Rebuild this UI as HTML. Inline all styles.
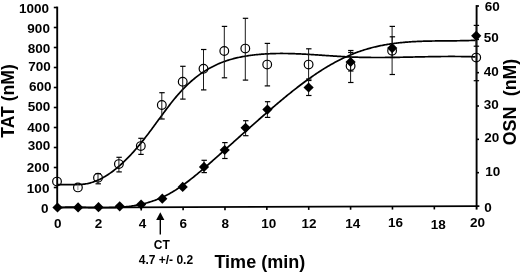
<!DOCTYPE html>
<html><head><meta charset="utf-8"><style>
html,body{margin:0;padding:0;background:#fff;}
body{width:520px;height:272px;overflow:hidden;}
svg{display:block;will-change:transform;}
text{font-family:"Liberation Sans",sans-serif;font-weight:bold;fill:#000;}
.tl{font-size:13.5px;}
.tm{font-size:12px;}
.tt{font-size:18px;}
.ty{font-size:17.6px;}
.ty2{font-size:17.8px;}
</style></head><body>
<svg width="520" height="272" viewBox="0 0 520 272">
<rect width="520" height="272" fill="#fff"/>
<line x1="57.2" y1="6.6" x2="57.2" y2="208.2" stroke="#000" stroke-width="1.9"/>
<line x1="476.6" y1="5.1" x2="476.6" y2="209.6" stroke="#000" stroke-width="1.9"/>
<line x1="57.2" y1="207.6" x2="479.4" y2="206.09" stroke="#000" stroke-width="1.8"/>
<line x1="53.8" y1="207.50" x2="57.2" y2="207.50" stroke="#000" stroke-width="1.6"/>
<text x="48.5" y="212.6" class="tl" text-anchor="end">0</text>
<line x1="53.8" y1="187.50" x2="57.2" y2="187.50" stroke="#000" stroke-width="1.6"/>
<text x="49.4" y="192.5" class="tl" text-anchor="end">100</text>
<line x1="53.8" y1="167.50" x2="57.2" y2="167.50" stroke="#000" stroke-width="1.6"/>
<text x="49.4" y="172.4" class="tl" text-anchor="end">200</text>
<line x1="53.8" y1="147.50" x2="57.2" y2="147.50" stroke="#000" stroke-width="1.6"/>
<text x="50.3" y="149.7" class="tl" text-anchor="end">300</text>
<line x1="53.8" y1="127.50" x2="57.2" y2="127.50" stroke="#000" stroke-width="1.6"/>
<text x="49.9" y="131.5" class="tl" text-anchor="end">400</text>
<line x1="53.8" y1="107.50" x2="57.2" y2="107.50" stroke="#000" stroke-width="1.6"/>
<text x="50.3" y="111.0" class="tl" text-anchor="end">500</text>
<line x1="53.8" y1="87.50" x2="57.2" y2="87.50" stroke="#000" stroke-width="1.6"/>
<text x="51.6" y="90.9" class="tl" text-anchor="end">600</text>
<line x1="53.8" y1="67.50" x2="57.2" y2="67.50" stroke="#000" stroke-width="1.6"/>
<text x="50.7" y="70.9" class="tl" text-anchor="end">700</text>
<line x1="53.8" y1="47.50" x2="57.2" y2="47.50" stroke="#000" stroke-width="1.6"/>
<text x="50.3" y="52.9" class="tl" text-anchor="end">800</text>
<line x1="53.8" y1="27.50" x2="57.2" y2="27.50" stroke="#000" stroke-width="1.6"/>
<text x="49.9" y="33.2" class="tl" text-anchor="end">900</text>
<line x1="53.8" y1="7.50" x2="57.2" y2="7.50" stroke="#000" stroke-width="1.6"/>
<text x="49.0" y="13.2" class="tl" text-anchor="end">1000</text>
<text x="484.3" y="212.0" class="tl">0</text>
<line x1="476.6" y1="172.67" x2="479.0" y2="172.67" stroke="#000" stroke-width="1.6"/>
<text x="485.2" y="176.4" class="tl">10</text>
<line x1="476.6" y1="139.33" x2="479.0" y2="139.33" stroke="#000" stroke-width="1.6"/>
<text x="484.3" y="142.2" class="tl">20</text>
<line x1="476.6" y1="106.00" x2="479.0" y2="106.00" stroke="#000" stroke-width="1.6"/>
<text x="483.8" y="108.5" class="tl">30</text>
<line x1="476.6" y1="72.67" x2="479.0" y2="72.67" stroke="#000" stroke-width="1.6"/>
<text x="483.8" y="75.8" class="tl">40</text>
<line x1="476.6" y1="39.33" x2="479.0" y2="39.33" stroke="#000" stroke-width="1.6"/>
<text x="483.8" y="41.7" class="tl">50</text>
<line x1="476.6" y1="6.00" x2="479.0" y2="6.00" stroke="#000" stroke-width="1.6"/>
<text x="484.8" y="10.9" class="tl">60</text>
<text x="57.7" y="228" class="tl" text-anchor="middle">0</text>
<line x1="99.37" y1="207.45" x2="99.37" y2="210.65" stroke="#000" stroke-width="1.6"/>
<text x="98.6" y="228" class="tl" text-anchor="middle">2</text>
<line x1="141.24" y1="207.30" x2="141.24" y2="210.50" stroke="#000" stroke-width="1.6"/>
<text x="142.4" y="228" class="tl" text-anchor="middle">4</text>
<line x1="183.11" y1="207.15" x2="183.11" y2="210.35" stroke="#000" stroke-width="1.6"/>
<text x="183.3" y="228" class="tl" text-anchor="middle">6</text>
<line x1="224.98" y1="207.00" x2="224.98" y2="210.20" stroke="#000" stroke-width="1.6"/>
<text x="225.3" y="228" class="tl" text-anchor="middle">8</text>
<line x1="266.85" y1="206.85" x2="266.85" y2="210.05" stroke="#000" stroke-width="1.6"/>
<text x="268.7" y="228" class="tl" text-anchor="middle">10</text>
<line x1="308.72" y1="206.70" x2="308.72" y2="209.90" stroke="#000" stroke-width="1.6"/>
<text x="308.9" y="228" class="tl" text-anchor="middle">12</text>
<line x1="350.59" y1="206.55" x2="350.59" y2="209.75" stroke="#000" stroke-width="1.6"/>
<text x="352.8" y="228" class="tl" text-anchor="middle">14</text>
<line x1="392.46" y1="206.40" x2="392.46" y2="209.60" stroke="#000" stroke-width="1.6"/>
<text x="395.6" y="226.5" class="tl" text-anchor="middle">16</text>
<line x1="434.33" y1="206.25" x2="434.33" y2="209.45" stroke="#000" stroke-width="1.6"/>
<text x="438.2" y="228.5" class="tl" text-anchor="middle">18</text>
<text x="477.4" y="227" class="tl" text-anchor="middle">20</text>
<path d="M57.5,184.70 L58.5,184.64 L59.5,184.60 L60.5,184.57 L61.5,184.55 L62.5,184.54 L63.5,184.53 L64.5,184.54 L65.5,184.55 L66.5,184.56 L67.5,184.58 L68.5,184.60 L69.5,184.62 L70.5,184.64 L71.5,184.66 L72.5,184.68 L73.5,184.68 L74.5,184.69 L75.5,184.68 L76.5,184.67 L77.5,184.64 L78.5,184.61 L79.5,184.56 L80.5,184.50 L81.5,184.42 L82.5,184.32 L83.5,184.21 L84.5,184.08 L85.5,183.92 L86.5,183.75 L87.5,183.55 L88.5,183.32 L89.5,183.08 L90.5,182.81 L91.5,182.52 L92.5,182.21 L93.5,181.87 L94.5,181.52 L95.5,181.14 L96.5,180.74 L97.5,180.32 L98.5,179.87 L99.5,179.41 L100.5,178.92 L101.5,178.41 L102.5,177.89 L103.5,177.34 L104.5,176.77 L105.5,176.17 L106.5,175.56 L107.5,174.93 L108.5,174.27 L109.5,173.60 L110.5,172.91 L111.5,172.19 L112.5,171.46 L113.5,170.71 L114.5,169.93 L115.5,169.14 L116.5,168.33 L117.5,167.50 L118.5,166.65 L119.5,165.79 L120.5,164.90 L121.5,164.00 L122.5,163.08 L123.5,162.14 L124.5,161.18 L125.5,160.21 L126.5,159.22 L127.5,158.21 L128.5,157.18 L129.5,156.14 L130.5,155.08 L131.5,154.01 L132.5,152.92 L133.5,151.81 L134.5,150.69 L135.5,149.55 L136.5,148.39 L137.5,147.23 L138.5,146.04 L139.5,144.84 L140.5,143.63 L141.5,142.40 L142.5,141.15 L143.5,139.90 L144.5,138.63 L145.5,137.34 L146.5,136.04 L147.5,134.73 L148.5,133.41 L149.5,132.08 L150.5,130.75 L151.5,129.40 L152.5,128.05 L153.5,126.69 L154.5,125.33 L155.5,123.97 L156.5,122.60 L157.5,121.24 L158.5,119.87 L159.5,118.50 L160.5,117.14 L161.5,115.78 L162.5,114.42 L163.5,113.06 L164.5,111.72 L165.5,110.38 L166.5,109.05 L167.5,107.72 L168.5,106.41 L169.5,105.11 L170.5,103.82 L171.5,102.54 L172.5,101.28 L173.5,100.04 L174.5,98.81 L175.5,97.59 L176.5,96.40 L177.5,95.22 L178.5,94.07 L179.5,92.94 L180.5,91.82 L181.5,90.74 L182.5,89.67 L183.5,88.62 L184.5,87.60 L185.5,86.60 L186.5,85.61 L187.5,84.65 L188.5,83.71 L189.5,82.79 L190.5,81.89 L191.5,81.01 L192.5,80.15 L193.5,79.31 L194.5,78.48 L195.5,77.68 L196.5,76.89 L197.5,76.13 L198.5,75.38 L199.5,74.65 L200.5,73.93 L201.5,73.23 L202.5,72.56 L203.5,71.89 L204.5,71.25 L205.5,70.62 L206.5,70.00 L207.5,69.41 L208.5,68.82 L209.5,68.26 L210.5,67.71 L211.5,67.17 L212.5,66.65 L213.5,66.14 L214.5,65.65 L215.5,65.17 L216.5,64.71 L217.5,64.25 L218.5,63.82 L219.5,63.39 L220.5,62.98 L221.5,62.58 L222.5,62.19 L223.5,61.82 L224.5,61.45 L225.5,61.10 L226.5,60.76 L227.5,60.43 L228.5,60.11 L229.5,59.81 L230.5,59.51 L231.5,59.22 L232.5,58.95 L233.5,58.68 L234.5,58.42 L235.5,58.17 L236.5,57.93 L237.5,57.70 L238.5,57.48 L239.5,57.27 L240.5,57.06 L241.5,56.86 L242.5,56.67 L243.5,56.49 L244.5,56.31 L245.5,56.14 L246.5,55.98 L247.5,55.83 L248.5,55.68 L249.5,55.53 L250.5,55.39 L251.5,55.26 L252.5,55.13 L253.5,55.01 L254.5,54.90 L255.5,54.78 L256.5,54.68 L257.5,54.58 L258.5,54.48 L259.5,54.39 L260.5,54.30 L261.5,54.22 L262.5,54.14 L263.5,54.07 L264.5,54.00 L265.5,53.94 L266.5,53.88 L267.5,53.83 L268.5,53.78 L269.5,53.73 L270.5,53.69 L271.5,53.65 L272.5,53.61 L273.5,53.58 L274.5,53.56 L275.5,53.54 L276.5,53.52 L277.5,53.50 L278.5,53.49 L279.5,53.48 L280.5,53.47 L281.5,53.47 L282.5,53.47 L283.5,53.48 L284.5,53.49 L285.5,53.50 L286.5,53.51 L287.5,53.52 L288.5,53.54 L289.5,53.57 L290.5,53.59 L291.5,53.62 L292.5,53.64 L293.5,53.68 L294.5,53.71 L295.5,53.75 L296.5,53.78 L297.5,53.82 L298.5,53.87 L299.5,53.91 L300.5,53.96 L301.5,54.00 L302.5,54.05 L303.5,54.11 L304.5,54.16 L305.5,54.21 L306.5,54.27 L307.5,54.32 L308.5,54.38 L309.5,54.44 L310.5,54.50 L311.5,54.56 L312.5,54.63 L313.5,54.69 L314.5,54.75 L315.5,54.82 L316.5,54.88 L317.5,54.95 L318.5,55.02 L319.5,55.08 L320.5,55.15 L321.5,55.22 L322.5,55.29 L323.5,55.36 L324.5,55.42 L325.5,55.49 L326.5,55.56 L327.5,55.63 L328.5,55.69 L329.5,55.76 L330.5,55.83 L331.5,55.90 L332.5,55.96 L333.5,56.03 L334.5,56.09 L335.5,56.16 L336.5,56.22 L337.5,56.28 L338.5,56.34 L339.5,56.40 L340.5,56.46 L341.5,56.52 L342.5,56.57 L343.5,56.63 L344.5,56.68 L345.5,56.74 L346.5,56.79 L347.5,56.83 L348.5,56.88 L349.5,56.93 L350.5,56.97 L351.5,57.01 L352.5,57.05 L353.5,57.09 L354.5,57.13 L355.5,57.16 L356.5,57.19 L357.5,57.22 L358.5,57.25 L359.5,57.28 L360.5,57.30 L361.5,57.33 L362.5,57.35 L363.5,57.37 L364.5,57.39 L365.5,57.40 L366.5,57.42 L367.5,57.43 L368.5,57.45 L369.5,57.46 L370.5,57.47 L371.5,57.48 L372.5,57.48 L373.5,57.49 L374.5,57.49 L375.5,57.50 L376.5,57.50 L377.5,57.50 L378.5,57.50 L379.5,57.50 L380.5,57.50 L381.5,57.49 L382.5,57.49 L383.5,57.48 L384.5,57.48 L385.5,57.47 L386.5,57.46 L387.5,57.45 L388.5,57.44 L389.5,57.43 L390.5,57.42 L391.5,57.41 L392.5,57.39 L393.5,57.38 L394.5,57.37 L395.5,57.35 L396.5,57.33 L397.5,57.32 L398.5,57.30 L399.5,57.28 L400.5,57.27 L401.5,57.25 L402.5,57.23 L403.5,57.21 L404.5,57.19 L405.5,57.17 L406.5,57.15 L407.5,57.13 L408.5,57.11 L409.5,57.09 L410.5,57.07 L411.5,57.05 L412.5,57.03 L413.5,57.01 L414.5,56.99 L415.5,56.97 L416.5,56.95 L417.5,56.93 L418.5,56.90 L419.5,56.88 L420.5,56.86 L421.5,56.84 L422.5,56.82 L423.5,56.80 L424.5,56.78 L425.5,56.76 L426.5,56.74 L427.5,56.73 L428.5,56.71 L429.5,56.69 L430.5,56.67 L431.5,56.66 L432.5,56.64 L433.5,56.62 L434.5,56.61 L435.5,56.59 L436.5,56.58 L437.5,56.57 L438.5,56.55 L439.5,56.54 L440.5,56.53 L441.5,56.52 L442.5,56.51 L443.5,56.50 L444.5,56.49 L445.5,56.49 L446.5,56.48 L447.5,56.48 L448.5,56.47 L449.5,56.47 L450.5,56.47 L451.5,56.47 L452.5,56.47 L453.5,56.47 L454.5,56.47 L455.5,56.48 L456.5,56.48 L457.5,56.49 L458.5,56.49 L459.5,56.50 L460.5,56.51 L461.5,56.53 L462.5,56.54 L463.5,56.55 L464.5,56.57 L465.5,56.59 L466.5,56.61 L467.5,56.63 L468.5,56.65 L469.5,56.68 L470.5,56.70 L471.5,56.73 L472.5,56.76 L473.5,56.79 L474.5,56.82 L475.5,56.86" fill="none" stroke="#000" stroke-width="1.7" stroke-linejoin="round"/>
<path d="M57.5,207.46 L58.5,207.41 L59.5,207.37 L60.5,207.34 L61.5,207.31 L62.5,207.28 L63.5,207.26 L64.5,207.24 L65.5,207.22 L66.5,207.21 L67.5,207.21 L68.5,207.20 L69.5,207.20 L70.5,207.20 L71.5,207.21 L72.5,207.21 L73.5,207.22 L74.5,207.23 L75.5,207.25 L76.5,207.26 L77.5,207.28 L78.5,207.30 L79.5,207.32 L80.5,207.34 L81.5,207.36 L82.5,207.38 L83.5,207.41 L84.5,207.43 L85.5,207.46 L86.5,207.48 L87.5,207.51 L88.5,207.53 L89.5,207.56 L90.5,207.58 L91.5,207.60 L92.5,207.63 L93.5,207.65 L94.5,207.67 L95.5,207.69 L96.5,207.71 L97.5,207.72 L98.5,207.74 L99.5,207.75 L100.5,207.76 L101.5,207.77 L102.5,207.77 L103.5,207.77 L104.5,207.77 L105.5,207.77 L106.5,207.76 L107.5,207.75 L108.5,207.74 L109.5,207.72 L110.5,207.70 L111.5,207.68 L112.5,207.65 L113.5,207.62 L114.5,207.58 L115.5,207.54 L116.5,207.49 L117.5,207.44 L118.5,207.38 L119.5,207.32 L120.5,207.25 L121.5,207.17 L122.5,207.10 L123.5,207.01 L124.5,206.92 L125.5,206.82 L126.5,206.71 L127.5,206.60 L128.5,206.48 L129.5,206.36 L130.5,206.23 L131.5,206.09 L132.5,205.94 L133.5,205.78 L134.5,205.62 L135.5,205.45 L136.5,205.27 L137.5,205.08 L138.5,204.88 L139.5,204.68 L140.5,204.47 L141.5,204.24 L142.5,204.01 L143.5,203.77 L144.5,203.52 L145.5,203.26 L146.5,202.99 L147.5,202.71 L148.5,202.42 L149.5,202.11 L150.5,201.80 L151.5,201.48 L152.5,201.15 L153.5,200.80 L154.5,200.45 L155.5,200.08 L156.5,199.70 L157.5,199.31 L158.5,198.91 L159.5,198.49 L160.5,198.07 L161.5,197.63 L162.5,197.17 L163.5,196.71 L164.5,196.23 L165.5,195.74 L166.5,195.24 L167.5,194.72 L168.5,194.19 L169.5,193.65 L170.5,193.09 L171.5,192.52 L172.5,191.93 L173.5,191.33 L174.5,190.72 L175.5,190.10 L176.5,189.46 L177.5,188.81 L178.5,188.15 L179.5,187.48 L180.5,186.80 L181.5,186.11 L182.5,185.41 L183.5,184.69 L184.5,183.97 L185.5,183.24 L186.5,182.50 L187.5,181.74 L188.5,180.98 L189.5,180.22 L190.5,179.44 L191.5,178.66 L192.5,177.86 L193.5,177.06 L194.5,176.26 L195.5,175.44 L196.5,174.62 L197.5,173.80 L198.5,172.97 L199.5,172.13 L200.5,171.29 L201.5,170.44 L202.5,169.59 L203.5,168.73 L204.5,167.87 L205.5,167.00 L206.5,166.13 L207.5,165.26 L208.5,164.39 L209.5,163.51 L210.5,162.63 L211.5,161.75 L212.5,160.86 L213.5,159.98 L214.5,159.09 L215.5,158.20 L216.5,157.31 L217.5,156.42 L218.5,155.53 L219.5,154.64 L220.5,153.75 L221.5,152.86 L222.5,151.96 L223.5,151.07 L224.5,150.18 L225.5,149.28 L226.5,148.39 L227.5,147.49 L228.5,146.60 L229.5,145.70 L230.5,144.81 L231.5,143.91 L232.5,143.02 L233.5,142.12 L234.5,141.23 L235.5,140.33 L236.5,139.44 L237.5,138.54 L238.5,137.65 L239.5,136.75 L240.5,135.86 L241.5,134.96 L242.5,134.07 L243.5,133.18 L244.5,132.29 L245.5,131.40 L246.5,130.51 L247.5,129.62 L248.5,128.73 L249.5,127.84 L250.5,126.95 L251.5,126.06 L252.5,125.18 L253.5,124.29 L254.5,123.41 L255.5,122.53 L256.5,121.65 L257.5,120.77 L258.5,119.89 L259.5,119.01 L260.5,118.13 L261.5,117.26 L262.5,116.38 L263.5,115.51 L264.5,114.64 L265.5,113.77 L266.5,112.91 L267.5,112.04 L268.5,111.18 L269.5,110.32 L270.5,109.46 L271.5,108.60 L272.5,107.74 L273.5,106.89 L274.5,106.04 L275.5,105.19 L276.5,104.34 L277.5,103.50 L278.5,102.65 L279.5,101.82 L280.5,100.98 L281.5,100.15 L282.5,99.32 L283.5,98.49 L284.5,97.67 L285.5,96.84 L286.5,96.03 L287.5,95.21 L288.5,94.40 L289.5,93.60 L290.5,92.79 L291.5,92.00 L292.5,91.20 L293.5,90.41 L294.5,89.62 L295.5,88.84 L296.5,88.06 L297.5,87.29 L298.5,86.52 L299.5,85.75 L300.5,84.99 L301.5,84.24 L302.5,83.49 L303.5,82.74 L304.5,82.00 L305.5,81.27 L306.5,80.54 L307.5,79.81 L308.5,79.09 L309.5,78.38 L310.5,77.67 L311.5,76.97 L312.5,76.27 L313.5,75.58 L314.5,74.90 L315.5,74.22 L316.5,73.54 L317.5,72.88 L318.5,72.22 L319.5,71.57 L320.5,70.92 L321.5,70.28 L322.5,69.65 L323.5,69.02 L324.5,68.40 L325.5,67.79 L326.5,67.18 L327.5,66.58 L328.5,65.99 L329.5,65.41 L330.5,64.83 L331.5,64.26 L332.5,63.70 L333.5,63.15 L334.5,62.60 L335.5,62.07 L336.5,61.54 L337.5,61.01 L338.5,60.50 L339.5,59.99 L340.5,59.49 L341.5,59.00 L342.5,58.51 L343.5,58.04 L344.5,57.57 L345.5,57.11 L346.5,56.65 L347.5,56.21 L348.5,55.77 L349.5,55.34 L350.5,54.91 L351.5,54.50 L352.5,54.09 L353.5,53.69 L354.5,53.30 L355.5,52.91 L356.5,52.54 L357.5,52.17 L358.5,51.80 L359.5,51.45 L360.5,51.11 L361.5,50.77 L362.5,50.44 L363.5,50.11 L364.5,49.80 L365.5,49.49 L366.5,49.19 L367.5,48.90 L368.5,48.61 L369.5,48.33 L370.5,48.06 L371.5,47.79 L372.5,47.53 L373.5,47.28 L374.5,47.04 L375.5,46.80 L376.5,46.57 L377.5,46.34 L378.5,46.12 L379.5,45.91 L380.5,45.70 L381.5,45.50 L382.5,45.30 L383.5,45.11 L384.5,44.93 L385.5,44.75 L386.5,44.57 L387.5,44.41 L388.5,44.24 L389.5,44.09 L390.5,43.93 L391.5,43.79 L392.5,43.65 L393.5,43.51 L394.5,43.38 L395.5,43.25 L396.5,43.13 L397.5,43.01 L398.5,42.89 L399.5,42.78 L400.5,42.68 L401.5,42.58 L402.5,42.48 L403.5,42.39 L404.5,42.30 L405.5,42.21 L406.5,42.13 L407.5,42.05 L408.5,41.98 L409.5,41.91 L410.5,41.84 L411.5,41.77 L412.5,41.71 L413.5,41.65 L414.5,41.60 L415.5,41.55 L416.5,41.50 L417.5,41.45 L418.5,41.41 L419.5,41.36 L420.5,41.32 L421.5,41.29 L422.5,41.25 L423.5,41.22 L424.5,41.19 L425.5,41.16 L426.5,41.13 L427.5,41.11 L428.5,41.09 L429.5,41.07 L430.5,41.05 L431.5,41.03 L432.5,41.01 L433.5,41.00 L434.5,40.98 L435.5,40.97 L436.5,40.95 L437.5,40.94 L438.5,40.93 L439.5,40.92 L440.5,40.91 L441.5,40.90 L442.5,40.90 L443.5,40.89 L444.5,40.88 L445.5,40.87 L446.5,40.87 L447.5,40.86 L448.5,40.85 L449.5,40.84 L450.5,40.84 L451.5,40.83 L452.5,40.82 L453.5,40.81 L454.5,40.80 L455.5,40.79 L456.5,40.78 L457.5,40.77 L458.5,40.75 L459.5,40.74 L460.5,40.72 L461.5,40.71 L462.5,40.69 L463.5,40.67 L464.5,40.65 L465.5,40.63 L466.5,40.60 L467.5,40.58 L468.5,40.55 L469.5,40.52 L470.5,40.49 L471.5,40.45 L472.5,40.42 L473.5,40.38 L474.5,40.34 L475.5,40.29" fill="none" stroke="#000" stroke-width="1.7" stroke-linejoin="round"/>
<line x1="98.00" y1="173.60" x2="98.00" y2="183.80" stroke="#1a1a1a" stroke-width="1.0"/>
<line x1="95.50" y1="173.60" x2="100.90" y2="173.60" stroke="#000" stroke-width="1.2"/>
<line x1="95.50" y1="183.80" x2="100.90" y2="183.80" stroke="#000" stroke-width="1.2"/>
<line x1="118.90" y1="157.30" x2="118.90" y2="171.90" stroke="#1a1a1a" stroke-width="1.0"/>
<line x1="116.40" y1="157.30" x2="121.80" y2="157.30" stroke="#000" stroke-width="1.2"/>
<line x1="116.40" y1="171.90" x2="121.80" y2="171.90" stroke="#000" stroke-width="1.2"/>
<line x1="140.80" y1="138.30" x2="140.80" y2="154.40" stroke="#1a1a1a" stroke-width="1.0"/>
<line x1="138.30" y1="138.30" x2="143.70" y2="138.30" stroke="#000" stroke-width="1.2"/>
<line x1="138.30" y1="154.40" x2="143.70" y2="154.40" stroke="#000" stroke-width="1.2"/>
<line x1="161.80" y1="92.70" x2="161.80" y2="119.00" stroke="#1a1a1a" stroke-width="1.0"/>
<line x1="159.30" y1="92.70" x2="164.70" y2="92.70" stroke="#000" stroke-width="1.2"/>
<line x1="159.30" y1="119.00" x2="164.70" y2="119.00" stroke="#000" stroke-width="1.2"/>
<line x1="182.70" y1="66.30" x2="182.70" y2="99.10" stroke="#1a1a1a" stroke-width="1.0"/>
<line x1="180.20" y1="66.30" x2="185.60" y2="66.30" stroke="#000" stroke-width="1.2"/>
<line x1="180.20" y1="99.10" x2="185.60" y2="99.10" stroke="#000" stroke-width="1.2"/>
<line x1="203.50" y1="49.50" x2="203.50" y2="89.90" stroke="#1a1a1a" stroke-width="1.0"/>
<line x1="201.00" y1="49.50" x2="206.40" y2="49.50" stroke="#000" stroke-width="1.2"/>
<line x1="201.00" y1="89.90" x2="206.40" y2="89.90" stroke="#000" stroke-width="1.2"/>
<line x1="224.30" y1="26.40" x2="224.30" y2="77.80" stroke="#1a1a1a" stroke-width="1.0"/>
<line x1="221.80" y1="26.40" x2="227.20" y2="26.40" stroke="#000" stroke-width="1.2"/>
<line x1="221.80" y1="77.80" x2="227.20" y2="77.80" stroke="#000" stroke-width="1.2"/>
<line x1="245.30" y1="18.30" x2="245.30" y2="80.10" stroke="#1a1a1a" stroke-width="1.0"/>
<line x1="242.80" y1="18.30" x2="248.20" y2="18.30" stroke="#000" stroke-width="1.2"/>
<line x1="242.80" y1="80.10" x2="248.20" y2="80.10" stroke="#000" stroke-width="1.2"/>
<line x1="267.20" y1="43.40" x2="267.20" y2="85.90" stroke="#1a1a1a" stroke-width="1.0"/>
<line x1="264.70" y1="43.40" x2="270.10" y2="43.40" stroke="#000" stroke-width="1.2"/>
<line x1="264.70" y1="85.90" x2="270.10" y2="85.90" stroke="#000" stroke-width="1.2"/>
<line x1="308.60" y1="48.80" x2="308.60" y2="80.50" stroke="#1a1a1a" stroke-width="1.0"/>
<line x1="306.10" y1="48.80" x2="311.50" y2="48.80" stroke="#000" stroke-width="1.2"/>
<line x1="306.10" y1="80.50" x2="311.50" y2="80.50" stroke="#000" stroke-width="1.2"/>
<line x1="350.60" y1="52.50" x2="350.60" y2="82.50" stroke="#1a1a1a" stroke-width="1.0"/>
<line x1="348.10" y1="52.50" x2="353.50" y2="52.50" stroke="#000" stroke-width="1.2"/>
<line x1="348.10" y1="82.50" x2="353.50" y2="82.50" stroke="#000" stroke-width="1.2"/>
<line x1="392.10" y1="26.40" x2="392.10" y2="74.50" stroke="#1a1a1a" stroke-width="1.0"/>
<line x1="389.60" y1="26.40" x2="395.00" y2="26.40" stroke="#000" stroke-width="1.2"/>
<line x1="389.60" y1="74.50" x2="395.00" y2="74.50" stroke="#000" stroke-width="1.2"/>
<line x1="476.20" y1="36.00" x2="476.20" y2="80.70" stroke="#1a1a1a" stroke-width="1.0"/>
<line x1="473.70" y1="36.00" x2="479.10" y2="36.00" stroke="#000" stroke-width="1.2"/>
<line x1="473.70" y1="80.70" x2="479.10" y2="80.70" stroke="#000" stroke-width="1.2"/>
<line x1="204.00" y1="160.30" x2="204.00" y2="172.60" stroke="#1a1a1a" stroke-width="1.0"/>
<line x1="201.50" y1="160.30" x2="206.90" y2="160.30" stroke="#000" stroke-width="1.2"/>
<line x1="201.50" y1="172.60" x2="206.90" y2="172.60" stroke="#000" stroke-width="1.2"/>
<line x1="224.70" y1="142.60" x2="224.70" y2="158.50" stroke="#1a1a1a" stroke-width="1.0"/>
<line x1="222.20" y1="142.60" x2="227.60" y2="142.60" stroke="#000" stroke-width="1.2"/>
<line x1="222.20" y1="158.50" x2="227.60" y2="158.50" stroke="#000" stroke-width="1.2"/>
<line x1="245.60" y1="120.70" x2="245.60" y2="135.70" stroke="#1a1a1a" stroke-width="1.0"/>
<line x1="243.10" y1="120.70" x2="248.50" y2="120.70" stroke="#000" stroke-width="1.2"/>
<line x1="243.10" y1="135.70" x2="248.50" y2="135.70" stroke="#000" stroke-width="1.2"/>
<line x1="267.40" y1="101.70" x2="267.40" y2="117.40" stroke="#1a1a1a" stroke-width="1.0"/>
<line x1="264.90" y1="101.70" x2="270.30" y2="101.70" stroke="#000" stroke-width="1.2"/>
<line x1="264.90" y1="117.40" x2="270.30" y2="117.40" stroke="#000" stroke-width="1.2"/>
<line x1="308.60" y1="79.00" x2="308.60" y2="95.50" stroke="#1a1a1a" stroke-width="1.0"/>
<line x1="306.10" y1="79.00" x2="311.50" y2="79.00" stroke="#000" stroke-width="1.2"/>
<line x1="306.10" y1="95.50" x2="311.50" y2="95.50" stroke="#000" stroke-width="1.2"/>
<line x1="350.60" y1="50.50" x2="350.60" y2="71.00" stroke="#1a1a1a" stroke-width="1.0"/>
<line x1="348.10" y1="50.50" x2="353.50" y2="50.50" stroke="#000" stroke-width="1.2"/>
<line x1="348.10" y1="71.00" x2="353.50" y2="71.00" stroke="#000" stroke-width="1.2"/>
<line x1="392.20" y1="36.80" x2="392.20" y2="57.50" stroke="#1a1a1a" stroke-width="1.0"/>
<line x1="389.70" y1="36.80" x2="395.10" y2="36.80" stroke="#000" stroke-width="1.2"/>
<line x1="389.70" y1="57.50" x2="395.10" y2="57.50" stroke="#000" stroke-width="1.2"/>
<line x1="476.20" y1="25.40" x2="476.20" y2="46.20" stroke="#1a1a1a" stroke-width="1.0"/>
<line x1="473.70" y1="25.40" x2="479.10" y2="25.40" stroke="#000" stroke-width="1.2"/>
<line x1="473.70" y1="46.20" x2="479.10" y2="46.20" stroke="#000" stroke-width="1.2"/>
<line x1="77.9" y1="184.6" x2="77.9" y2="190.2" stroke="#888" stroke-width="0.9"/>
<circle cx="57.00" cy="181.60" r="4.35" fill="none" stroke="#000" stroke-width="1.2"/>
<circle cx="77.90" cy="187.40" r="4.35" fill="none" stroke="#000" stroke-width="1.2"/>
<circle cx="98.00" cy="177.80" r="4.35" fill="none" stroke="#000" stroke-width="1.2"/>
<circle cx="118.90" cy="164.10" r="4.35" fill="none" stroke="#000" stroke-width="1.2"/>
<circle cx="140.80" cy="146.10" r="4.35" fill="none" stroke="#000" stroke-width="1.2"/>
<circle cx="161.80" cy="105.00" r="4.35" fill="none" stroke="#000" stroke-width="1.2"/>
<circle cx="182.70" cy="81.70" r="4.35" fill="none" stroke="#000" stroke-width="1.2"/>
<circle cx="203.50" cy="68.80" r="4.35" fill="none" stroke="#000" stroke-width="1.2"/>
<circle cx="224.30" cy="51.00" r="4.35" fill="none" stroke="#000" stroke-width="1.2"/>
<circle cx="245.30" cy="48.60" r="4.35" fill="none" stroke="#000" stroke-width="1.2"/>
<circle cx="267.20" cy="64.60" r="4.35" fill="none" stroke="#000" stroke-width="1.2"/>
<circle cx="308.60" cy="64.60" r="4.35" fill="none" stroke="#000" stroke-width="1.2"/>
<circle cx="350.60" cy="66.00" r="4.35" fill="none" stroke="#000" stroke-width="1.2"/>
<circle cx="392.10" cy="50.80" r="4.35" fill="none" stroke="#000" stroke-width="1.2"/>
<circle cx="476.20" cy="57.60" r="4.35" fill="none" stroke="#000" stroke-width="1.2"/>
<path d="M57.50,202.40 L62.60,207.50 L57.50,212.60 L52.40,207.50 Z" fill="#000"/>
<path d="M78.10,202.30 L83.20,207.40 L78.10,212.50 L73.00,207.40 Z" fill="#000"/>
<path d="M98.50,202.10 L103.60,207.20 L98.50,212.30 L93.40,207.20 Z" fill="#000"/>
<path d="M119.70,201.20 L124.80,206.30 L119.70,211.40 L114.60,206.30 Z" fill="#000"/>
<path d="M141.10,199.40 L146.20,204.50 L141.10,209.60 L136.00,204.50 Z" fill="#000"/>
<path d="M162.30,193.60 L167.40,198.70 L162.30,203.80 L157.20,198.70 Z" fill="#000"/>
<path d="M182.70,181.80 L187.80,186.90 L182.70,192.00 L177.60,186.90 Z" fill="#000"/>
<path d="M204.00,161.80 L209.10,166.90 L204.00,172.00 L198.90,166.90 Z" fill="#000"/>
<path d="M224.70,144.90 L229.80,150.00 L224.70,155.10 L219.60,150.00 Z" fill="#000"/>
<path d="M245.60,122.70 L250.70,127.80 L245.60,132.90 L240.50,127.80 Z" fill="#000"/>
<path d="M267.40,104.50 L272.50,109.60 L267.40,114.70 L262.30,109.60 Z" fill="#000"/>
<path d="M308.60,82.40 L313.70,87.50 L308.60,92.60 L303.50,87.50 Z" fill="#000"/>
<path d="M350.60,56.90 L355.70,62.00 L350.60,67.10 L345.50,62.00 Z" fill="#000"/>
<path d="M392.20,43.00 L397.30,48.10 L392.20,53.20 L387.10,48.10 Z" fill="#000"/>
<path d="M476.20,30.70 L481.30,35.80 L476.20,40.90 L471.10,35.80 Z" fill="#000"/>
<line x1="160.3" y1="218" x2="160.3" y2="234.6" stroke="#000" stroke-width="1.4"/>
<path d="M160.3,212.2 L164.4,219.9 L156.2,219.9 Z" fill="#000"/>
<text x="161.8" y="249" class="tm" text-anchor="middle">CT</text>
<text x="165.9" y="264.4" class="tm" text-anchor="middle">4.7 +/- 0.2</text>
<text x="259.8" y="268.2" class="tt" text-anchor="middle">Time (min)</text>
<text transform="translate(14.0,101) rotate(-90)" class="ty" text-anchor="middle">TAT (nM)</text>
<text transform="translate(515.9,126.0) rotate(-90)" class="ty2" text-anchor="middle">OSN</text>
<text transform="translate(515.9,77.5) rotate(-90)" class="ty2" text-anchor="middle">(nM)</text>
</svg>
</body></html>
